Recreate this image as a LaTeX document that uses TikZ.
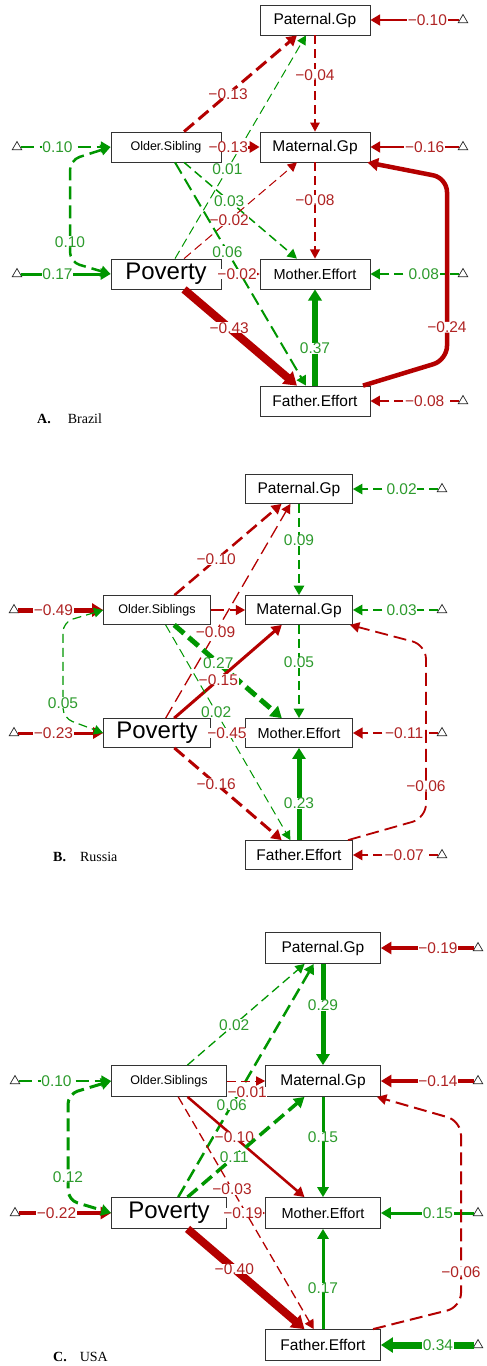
\documentclass[tikz,border=0pt]{standalone}
\usepackage{fontspec}
\setmainfont{Liberation Sans}
\newfontfamily\capfont{Liberation Serif}
\usetikzlibrary{arrows.meta,shapes.geometric}
\definecolor{rl}{RGB}{180,0,0}
\definecolor{gl}{RGB}{0,150,0}
\definecolor{rt}{RGB}{175,35,35}
\definecolor{gt}{RGB}{45,155,45}
\tikzset{
  hd/.tip={Triangle[length=8.5pt 0.5, width=8.5pt 0.9]},
  bx/.style={draw=black!80, line width=0.8pt, fill=white, inner sep=0pt},
  bA/.style={bx, minimum width=110pt, minimum height=30pt},
  bB/.style={bx, minimum width=107pt, minimum height=29pt},
  bC/.style={bx, minimum width=115pt, minimum height=31pt},
  fgp/.style={font=\fontsize{15.5}{16}\selectfont},
  fos/.style={font=\fontsize{12.5}{13}\selectfont},
  fpov/.style={font=\fontsize{24}{24}\selectfont},
  fme/.style={font=\fontsize{14.5}{15}\selectfont},
  tri/.style={regular polygon, regular polygon sides=3, draw=black!85, line width=0.7pt, fill=white, inner sep=0pt, minimum size=11pt},
  R/.style={draw=rl, line width=#1pt, -hd},
  G/.style={draw=gl, line width=#1pt, -hd},
  dthin/.style={dash pattern=on 9pt off 5pt},
  dthick/.style={dash pattern=on 13pt off 6pt},
  lb/.style={font=\fontsize{15.5}{16}\selectfont, inner xsep=0.6pt, inner ysep=0pt, text depth=0pt, fill=white},
  rlb/.style={lb, text=rt},
  glb/.style={lb, text=gt},
  captxt/.style={font=\capfont\fontsize{14}{14}\selectfont, anchor=west, inner sep=0pt},
}
\begin{document}
\begin{tikzpicture}[x=1pt,y=-1pt]
\fill[white] (0,0) rectangle (487,1366);
\useasboundingbox (0,0) rectangle (487,1366);

% ================= Panel A: Brazil =================
\node[bA,fgp] (aPat) at (315,20) {Paternal.Gp};
\node[bA,fgp] (aMat) at (315,147) {Maternal.Gp};
\node[bA,fos] (aOs) at (166,147) {Older.Sibling};
\node[bA,fpov] (aPov) at (166,274) {Poverty};
\node[bA,fme] (aMe) at (315,274) {Mother.Effort};
\node[bA,fgp] (aFe) at (315,401) {Father.Effort};
\node[tri] (aLos) at (17,147) {};
\node[tri] (aLpov) at (17,274) {};
\node[tri] (aRpat) at (463,20) {};
\node[tri] (aRmat) at (463,147) {};
\node[tri] (aRme) at (463,274) {};
\node[tri] (aRfe) at (463,401) {};
\node[captxt] (capA) at (37,419) {\textbf{A.}\hspace{17pt}Brazil};

\draw[R=2.5] (aRpat) -- node[rlb,pos=.36]{−0.10} (aPat);
\draw[R=2.5] (aRmat) -- node[rlb,pos=.39]{−0.16} (aMat);
\draw[G=2.5,dthick] (aLos) -- node[glb,pos=.41]{0.10} (aOs);
\draw[G=3] (aLpov) -- node[glb,pos=.41]{0.17} (aPov);
\draw[G=2,dthin] (aRme) -- node[glb,pos=.40]{0.08} (aMe);
\draw[R=2,dthin] (aRfe) -- node[rlb,pos=.39]{−0.08} (aFe);
\draw[R=3,dthick] (aOs) -- node[rlb,pos=.39]{−0.13} (aPat);
\draw[G=1,dthin] (aPov) -- node[glb,pos=.40]{0.01} (aPat);
\draw[R=1.2,dthin] (aPat) -- node[rlb,pos=.41]{−0.04} (aMat);
\draw[R=3] (aOs) -- node[rlb,pos=.18]{−0.13} (aMat);
\draw[G=1.5,dthin] (aOs) -- node[glb,pos=.40]{0.03} (aMe);
\draw[R=1,dthin] (aPov) -- node[rlb,pos=.40]{−0.02} (aMat);
\draw[R=1.5,dthin] (aMat) -- node[rlb,pos=.39]{−0.08} (aMe);
\draw[G=2,dthick] (aOs) -- node[glb,pos=.40]{0.06} (aFe);
\draw[R=1,dthin] (aPov) -- node[rlb,pos=.41]{−0.02} (aMe);
\draw[R=8] (aPov) -- node[rlb,pos=.40]{−0.43} (aFe);
\draw[G=5.5] (aFe) -- node[glb,pos=.39]{0.37} (aMe);
\draw[R=4.5,rounded corners=14pt] ([xshift=48pt]aFe.north) -- (447,360) -- node[rlb,pos=.18]{−0.24} (447,178) -- ([xshift=-3pt]aMat.south east);
\draw[G=2.5,dthick,hd-hd,rounded corners=10pt] (aOs.west) -- (70,160) -- node[glb,pos=.8]{0.10} (70,262) -- (aPov.west);

% ================= Panel B: Russia =================
\node[bB,fgp] (bPat) at (299,489) {Paternal.Gp};
\node[bB,fgp] (bMat) at (299,610) {Maternal.Gp};
\node[bB,fos] (bOs) at (157,610) {Older.Siblings};
\node[bB,fpov] (bPov) at (157,733) {Poverty};
\node[bB,fme] (bMe) at (299,733) {Mother.Effort};
\node[bB,fgp] (bFe) at (299,855) {Father.Effort};
\node[tri] (bLos) at (14,610) {};
\node[tri] (bLpov) at (14,733) {};
\node[tri] (bRpat) at (442,489) {};
\node[tri] (bRmat) at (442,610) {};
\node[tri] (bRme) at (442,733) {};
\node[tri] (bRfe) at (442,855) {};
\node[captxt] (capB) at (53,857) {\textbf{B.}\hspace{14pt}Russia};

\draw[G=2,dthin] (bRpat) -- node[glb,pos=.43]{0.02} (bPat);
\draw[G=2,dthin] (bRmat) -- node[glb,pos=.43]{0.03} (bMat);
\draw[R=5] (bLos) -- node[rlb,pos=.42]{−0.49} (bOs);
\draw[R=3] (bLpov) -- node[rlb,pos=.42]{−0.23} (bPov);
\draw[R=2.5,dthin] (bRme) -- node[rlb,pos=.40]{−0.11} (bMe);
\draw[R=2,dthin] (bRfe) -- node[rlb,pos=.40]{−0.07} (bFe);
\draw[R=2.5,dthick] (bOs) -- node[rlb,pos=.39]{−0.10} (bPat);
\draw[R=1.3,dthick] (bPov) -- node[rlb,pos=.40]{−0.09} (bPat);
\draw[G=2,dthin] (bPat) -- node[glb,pos=.40]{0.09} (bMat);
\draw[R=1.5,dthick] (bOs) -- (bMat);
\draw[G=5,dthick] (bOs) -- node[glb,pos=.41]{0.27} (bMe);
\draw[R=3] (bPov) -- node[rlb,pos=.41]{−0.15} (bMat);
\draw[G=2,dthin] (bMat) -- node[glb,pos=.40]{0.05} (bMe);
\draw[G=1,dthin] (bOs) -- node[glb,pos=.405]{0.02} (bFe);
\draw[R=1.5] (bPov) -- node[rlb,pos=.47]{−0.45} (bMe);
\draw[R=3,dthick] (bPov) -- node[rlb,pos=.39]{−0.16} (bFe);
\draw[G=5] (bFe) -- node[glb,pos=.40]{0.23} (bMe);
\draw[R=1.8,dthick,rounded corners=14pt] ([xshift=49pt]bFe.north) -- (426,818) -- node[rlb,pos=.185]{−0.06} (426,645) -- ([xshift=-3pt]bMat.south east);
\draw[G=1.2,dthin,hd-hd,rounded corners=10pt] (bOs.west) -- (63,622) -- node[glb,pos=.84]{0.05} (63,718) -- (bPov.west);

% ================= Panel C: USA =================
\node[bC,fgp] (cPat) at (323,948) {Paternal.Gp};
\node[bC,fgp] (cMat) at (323,1081) {Maternal.Gp};
\node[bC,fos] (cOs) at (169,1081) {Older.Siblings};
\node[bC,fpov] (cPov) at (169,1213) {Poverty};
\node[bC,fme] (cMe) at (323,1213) {Mother.Effort};
\node[bC,fgp] (cFe) at (323,1345) {Father.Effort};
\node[tri] (cLos) at (15,1081) {};
\node[tri] (cLpov) at (15,1213) {};
\node[tri] (cRpat) at (478,948) {};
\node[tri] (cRmat) at (478,1081) {};
\node[tri] (cRme) at (478,1213) {};
\node[tri] (cRfe) at (478,1345) {};
\node[captxt] (capC) at (53,1357) {\textbf{C.}\hspace{13pt}USA};

\draw[R=4] (cRpat) -- node[rlb,pos=.39]{−0.19} (cPat);
\draw[R=4] (cRmat) -- node[rlb,pos=.39]{−0.14} (cMat);
\draw[G=2.5,dthick] (cLos) -- node[glb,pos=.41]{0.10} (cOs);
\draw[R=4] (cLpov) -- node[rlb,pos=.41]{−0.22} (cPov);
\draw[G=3] (cRme) -- node[glb,pos=.39]{0.15} (cMe);
\draw[G=7] (cRfe) -- node[glb,pos=.39]{0.34} (cFe);
\draw[G=1.3,dthin] (cOs) -- node[glb,pos=.40]{0.02} (cPat);
\draw[G=2.5,dthick] (cPov) -- node[glb,pos=.395]{0.06} (cPat);
\draw[G=5] (cPat) -- node[glb,pos=.41]{0.29} (cMat);
\draw[R=0.8,dthin] (cOs) -- node[rlb,pos=.53,yshift=-11pt]{−0.01} (cMat);
\draw[R=2.5] (cOs) -- node[rlb,pos=.40]{−0.10} (cMe);
\draw[G=3.5,dthick] (cPov) -- node[glb,pos=.40]{0.11} (cMat);
\draw[G=3] (cMat) -- node[glb,pos=.40]{0.15} (cMe);
\draw[R=1.3,dthin] (cOs) -- node[rlb,pos=.397]{−0.03} (cFe);
\draw[R=1.5] (cPov) -- node[rlb,pos=.42]{−0.19} (cMe);
\draw[R=8] (cPov) -- node[rlb,pos=.40]{−0.40} (cFe);
\draw[G=3] (cFe) -- node[glb,pos=.41]{0.17} (cMe);
\draw[R=2,dthick,rounded corners=14pt] ([xshift=50pt]cFe.north) -- (461,1307) -- node[rlb,pos=.19]{−0.06} (461,1121) -- ([xshift=-4pt]cMat.south east);
\draw[G=3,dthick,hd-hd,rounded corners=10pt] (cOs.west) -- (68,1094) -- node[glb,pos=.78]{0.12} (68,1200) -- (cPov.west);
\end{tikzpicture}
\end{document}
